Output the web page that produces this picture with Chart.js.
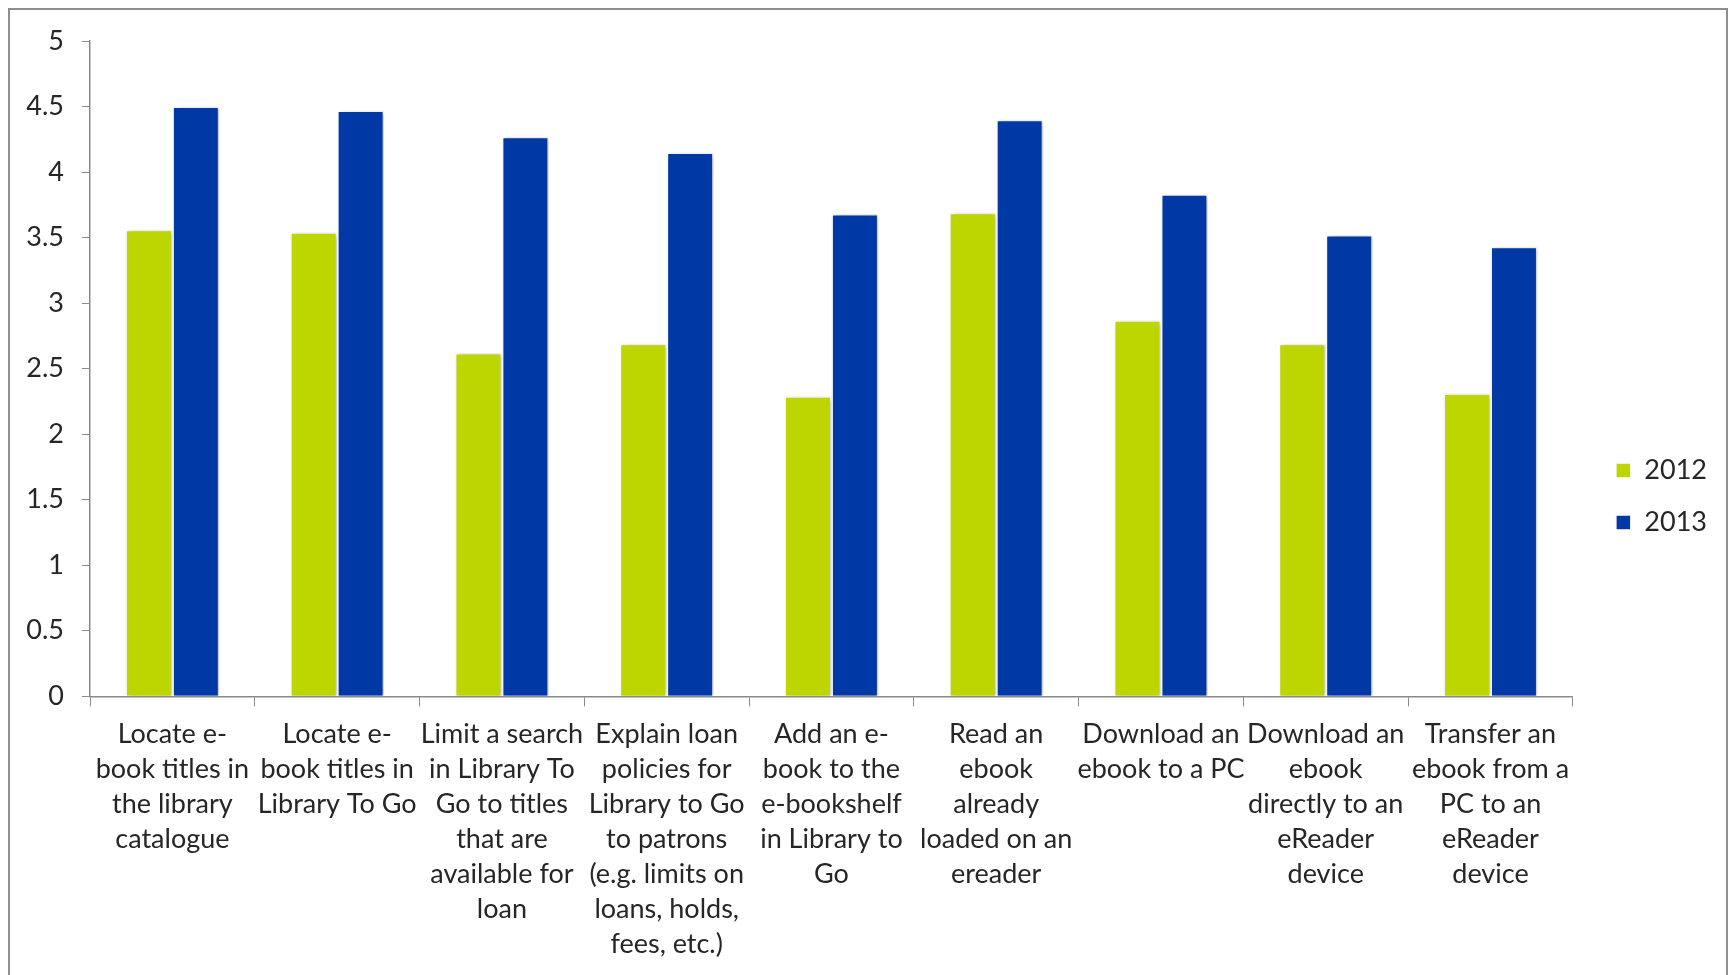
<!DOCTYPE html>
<html>
<head>
<meta charset="utf-8">
<script src="https://cdn.jsdelivr.net/npm/chart.js@4/dist/chart.umd.min.js"></script>
<style>
  html, body { margin: 0; padding: 0; background: #ffffff; overflow: hidden; }
  #wrap { position: relative; width: 1733px; height: 975px; }
  #frame { position: absolute; left: 8px; top: 8px; width: 1720px; height: 1000px;
           border: 2px solid #8e8e8e; box-sizing: border-box; pointer-events: none; }
</style>
</head>
<body>
<div id="wrap">
  <canvas id="c" width="1733" height="975"></canvas>
  <div id="frame"></div>
</div>
<script>
const categories = [
  ["Locate e-", "book titles in", "the library", "catalogue"],
  ["Locate e-", "book titles in", "Library To Go"],
  ["Limit a search", "in Library To", "Go to titles", "that are", "available for", "loan"],
  ["Explain loan", "policies for", "Library to Go", "to patrons", "(e.g. limits on", "loans, holds,", "fees, etc.)"],
  ["Add an e-", "book to the", "e-bookshelf", "in Library to", "Go"],
  ["Read an", "ebook", "already", "loaded on an", "ereader"],
  ["Download an", "ebook to a PC"],
  ["Download an", "ebook", "directly to an", "eReader", "device"],
  ["Transfer an", "ebook from a", "PC to an", "eReader", "device"]
];
const seriesNames = ["2012", "2013"];
const values2012 = [3.56, 3.54, 2.62, 2.69, 2.29, 3.69, 2.87, 2.69, 2.31];
const values2013 = [4.50, 4.47, 4.27, 4.15, 3.68, 4.40, 3.83, 3.52, 3.43];
const yTicks = [0, 0.5, 1, 1.5, 2, 2.5, 3, 3.5, 4, 4.5, 5];

const FONT = "Lato, 'Open Sans', sans-serif";
const TEXT = "#262626";
const AXIS = "#8a8a8a";

const shadowPlugin = {
  id: 'barShadow',
  beforeDatasetsDraw(chart) {
    const ctx = chart.ctx;
    ctx.save();
    ctx.shadowColor = 'rgba(0,0,0,0.28)';
    ctx.shadowBlur = 5;
    ctx.shadowOffsetX = 2;
    ctx.shadowOffsetY = 1;
  },
  afterDatasetsDraw(chart) {
    chart.ctx.restore();
  }
};

const legendShift = {
  id: 'legendShift',
  afterLayout(chart) {
    const lg = chart.legend;
    if (!lg) return;
    const dx = 18, dy = -10;
    lg.left += dx; lg.right += dx;
    lg.top += dy; lg.bottom += dy;
    if (lg.legendHitBoxes) lg.legendHitBoxes.forEach(h => { h.left += dx; h.top += dy; });
  }
};

new Chart(document.getElementById('c'), {
  type: 'bar',
  data: {
    labels: categories,
    datasets: [
      { label: seriesNames[0], data: values2012, backgroundColor: '#BED600',
        borderColor: '#ffffff', borderWidth: 1.5 },
      { label: seriesNames[1], data: values2013, backgroundColor: '#0038A6',
        borderColor: '#ffffff', borderWidth: 1.5 }
    ]
  },
  options: {
    responsive: false,
    animation: false,
    devicePixelRatio: 1,
    datasets: { bar: { categoryPercentage: 0.57, barPercentage: 1.0 } },
    layout: { padding: { left: 10, top: 41, right: 34, bottom: 3 } },
    plugins: {
      tooltip: { enabled: false },
      legend: {
        position: 'right',
        labels: {
          font: { family: FONT, size: 27 },
          color: TEXT,
          boxWidth: 15,
          boxHeight: 15,
          padding: 25
        }
      }
    },
    scales: {
      x: {
        grid: { display: true, drawOnChartArea: false, drawTicks: true, tickLength: 10, color: AXIS, offset: true },
        border: { display: true, color: AXIS, width: 1.5 },
        ticks: {
          autoSkip: false, maxRotation: 0, minRotation: 0, padding: 10,
          color: TEXT, font: { family: FONT, size: 27, lineHeight: 1.3 }
        }
      },
      y: {
        min: 0, max: 5,
        afterBuildTicks: (s) => { s.ticks = yTicks.map(v => ({ value: v })); },
        afterFit: (s) => { s.width = 80; },
        grid: { display: true, drawOnChartArea: false, drawTicks: true, tickLength: 8, color: AXIS },
        border: { display: true, color: AXIS, width: 1.5 },
        ticks: { padding: 18, color: TEXT, font: { family: FONT, size: 27 },
                 callback: (v) => String(v) }
      }
    }
  },
  plugins: [shadowPlugin, legendShift]
});
</script>
</body>
</html>
